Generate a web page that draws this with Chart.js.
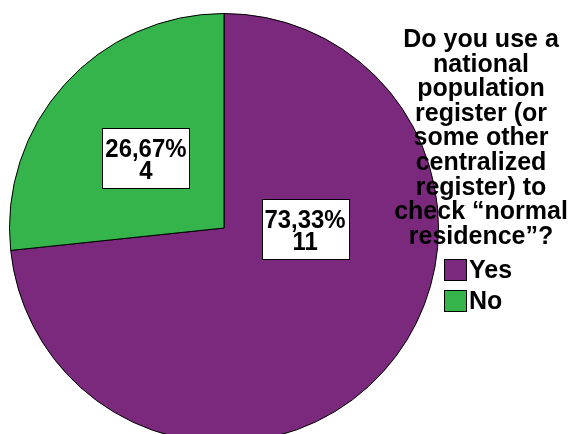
<!DOCTYPE html>
<html>
<head>
<meta charset="utf-8">
<script src="https://cdn.jsdelivr.net/npm/chart.js@4/dist/chart.umd.min.js"></script>
<style>
    html, body { margin: 0; padding: 0; background: #fff; }
    #wrap { width: 571px; height: 434px; overflow: hidden; position: relative; }
</style>
</head>
<body>
<div id="wrap">
    <canvas id="pie" width="571" height="460"></canvas>
</div>
<script>
const answers = ['Yes', 'No']
const counts = [11, 4]
const percentLabels = ['73,33%', '26,67%']
const titleLines = ['Do you use a', 'national', 'population', 'register (or', 'some other', 'centralized', 'register) to', 'check \u201cnormal', 'residence\u201d?']

const sliceColors = ['#7b297c', '#35b44b']
const labelFont = 'bold 26px "Liberation Sans", Arial, sans-serif'
const titleFont = 'bold 25px "Liberation Sans", Arial, sans-serif'
const squeeze = 0.92

// where each value box sits: angle in degrees (null = middle of slice), distance as part of radius
const labelSpots = [
    { angle: 1, dist: 0.378 },
    { angle: null, dist: 0.49 }
]

// text a little narrower than the font draws it
function narrowText(ctx, text, x, y) {
    ctx.save()
    ctx.translate(x, y)
    ctx.scale(squeeze, 1)
    ctx.fillText(text, 0, 0)
    ctx.restore()
}

const boxLabels = {
    id: 'boxLabels',
    afterDatasetsDraw(chart) {
        const ctx = chart.ctx
        const arcs = chart.getDatasetMeta(0).data
        ctx.save()
        ctx.font = labelFont
        ctx.textAlign = 'center'
        ctx.textBaseline = 'alphabetic'
        arcs.forEach((arc, i) => {
            const spot = labelSpots[i]
            const a = spot.angle === null ? (arc.startAngle + arc.endAngle) / 2 : spot.angle * Math.PI / 180
            const cx = arc.x + Math.cos(a) * arc.outerRadius * spot.dist
            const cy = arc.y + Math.sin(a) * arc.outerRadius * spot.dist
            const lines = [percentLabels[i], String(counts[i])]
            const w = Math.round(Math.max(...lines.map(l => ctx.measureText(l).width)) * squeeze + 6)
            const h = 60
            const left = Math.round(cx - w / 2) + 0.5
            const top = Math.round(cy - h / 2) + 0.5
            ctx.fillStyle = '#fff'
            ctx.fillRect(left, top, w, h)
            ctx.strokeStyle = '#000'
            ctx.lineWidth = 1
            ctx.strokeRect(left, top, w, h)
            ctx.fillStyle = '#000'
            narrowText(ctx, lines[0], cx, cy - 1)
            narrowText(ctx, lines[1], cx, cy + 21)
        })
        ctx.restore()
    }
}

// legend with its long title, stacked to the right of the pie
const sideLegend = {
    id: 'sideLegend',
    afterDraw(chart) {
        const ctx = chart.ctx
        ctx.save()
        ctx.font = titleFont
        ctx.fillStyle = '#000'
        ctx.textAlign = 'center'
        ctx.textBaseline = 'alphabetic'
        titleLines.forEach((line, i) => {
            ctx.fillText(line, 481, 47 + i * 24.6)
        })
        ctx.textAlign = 'left'
        ctx.textBaseline = 'middle'
        answers.forEach((name, i) => {
            const y = 270 + i * 31
            ctx.fillStyle = sliceColors[i]
            ctx.fillRect(444.5, y - 10.5, 22, 21)
            ctx.strokeStyle = '#000'
            ctx.lineWidth = 1
            ctx.strokeRect(444.5, y - 10.5, 22, 21)
            ctx.fillStyle = '#000'
            ctx.fillText(name, 469, y + 1)
        })
        ctx.restore()
    }
}

new Chart(document.getElementById('pie'), {
    type: 'pie',
    data: {
        labels: answers,
        datasets: [{
            data: counts,
            backgroundColor: sliceColors,
            borderColor: '#000',
            borderWidth: 1
        }]
    },
    options: {
        responsive: false,
        animation: false,
        layout: {
            padding: { left: 9, top: 13, right: 132, bottom: 17 }
        },
        plugins: {
            legend: { display: false },
            tooltip: { enabled: false }
        }
    },
    plugins: [boxLabels, sideLegend]
})
</script>
</body>
</html>
